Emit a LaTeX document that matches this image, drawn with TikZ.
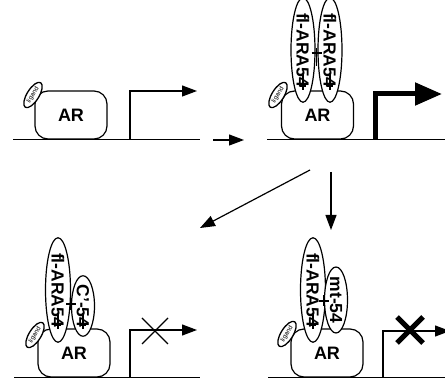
\documentclass[tikz,border=0pt]{standalone}
\usepackage{fontspec}
\setmainfont{Liberation Sans}[Ligatures=NoCommon]
\usetikzlibrary{shapes.geometric,arrows.meta}
\begin{document}
\begin{tikzpicture}[x=1pt,y=-1pt, line width=1.2pt,
  arbox/.style={draw, rounded corners=13pt, minimum width=72pt, minimum height=48pt, inner sep=0pt, font=\bfseries\fontsize{18}{18}\selectfont},
  co/.style={draw, fill=white, ellipse, rotate=-90, inner sep=0pt, font=\bfseries\fontsize{17.5}{17.5}\selectfont},
  lig/.style={draw, fill=white, ellipse, minimum width=29pt, minimum height=12pt, inner sep=0pt, line width=1.3pt, font=\fontsize{6.5}{6.5}\selectfont},
  base/.style={line width=0.9pt},
  thinarrow/.style={-{Triangle[length=15pt,width=11pt]}},
  boldarrow/.style={line width=5pt, -{Triangle[length=27pt,width=22pt]}},
  tick/.style={line width=1.2pt}
]
\path[use as bounding box] (0,0) rectangle (445,379);
\clip (0,0) rectangle (445,379);

% ---------------- Panel 1 ----------------
\coordinate (b1l) at (13,139); \coordinate (b1r) at (200,139);
\draw[base] (b1l) -- (b1r);
\node[arbox] (ar1) at (71,115) {AR};
\node[lig, rotate=58] (lg1) at (33,95) {ligand};
\coordinate (p1a) at (130,139); \coordinate (p1b) at (130,91); \coordinate (p1c) at (197,91);
\draw[thinarrow] (p1a) -- (p1b) -- (p1c);

% horizontal arrow
\coordinate (h1) at (213,140); \coordinate (h2) at (244,140);
\draw[thinarrow] (h1) -- (h2);

% ---------------- Panel 2 ----------------
\coordinate (b2l) at (267,139); \coordinate (b2r) at (445,139);
\draw[base] (b2l) -- (b2r);
\node[arbox] (ar2) at (317.5,115) {AR};
\node[co, minimum width=78pt, minimum height=24pt] (e2a) at (303,50) {fl-ARA54};
\node[co, minimum width=78pt, minimum height=24pt] (e2b) at (330,50) {fl-ARA54};
\node[lig, rotate=58] (lg2) at (278,95) {ligand};
\coordinate (x2) at (316.5,53);
\draw[tick] ([yshift=-13pt]x2) -- ([yshift=5pt]x2) ([xshift=-5pt]x2) -- ([xshift=5pt]x2);
\coordinate (t2a) at (303,86); \coordinate (t2b) at (330,86);
\draw[tick] ([yshift=-4pt]t2a) -- ([yshift=12pt]t2a) ([xshift=-3pt]t2a) -- ([xshift=3pt]t2a);
\draw[tick] ([yshift=-4pt]t2b) -- ([yshift=12pt]t2b) ([xshift=-3pt]t2b) -- ([xshift=3pt]t2b);
\coordinate (p2a) at (375,139); \coordinate (p2b) at (375,94); \coordinate (p2c) at (442,94);
\draw[boldarrow] (p2a) -- (p2b) -- (p2c);

% down arrows
\coordinate (d1) at (310,170); \coordinate (d2) at (200,228);
\draw[thinarrow] (d1) -- (d2);
\coordinate (v1) at (331,172); \coordinate (v2) at (331,230);
\draw[thinarrow] (v1) -- (v2);

% ---------------- Panel 3 ----------------
\coordinate (b3l) at (14,377); \coordinate (b3r) at (200,377);
\draw[base] (b3l) -- (b3r);
\node[arbox] (ar3) at (74,353) {AR};
\node[co, minimum width=78pt, minimum height=25pt] (e3a) at (58,290) {fl-ARA54};
\node[co, minimum width=46pt, minimum height=23pt] (e3b) at (83,306) {C'-54};
\node[lig, rotate=58] (lg3) at (35,335) {ligand};
\coordinate (x3) at (71,304);
\draw[tick] ([yshift=-6pt]x3) -- ([yshift=6pt]x3) ([xshift=-5pt]x3) -- ([xshift=5pt]x3);
\coordinate (t3a) at (58,325); \coordinate (t3b) at (83,325);
\draw[tick] ([yshift=-4pt]t3a) -- ([yshift=12pt]t3a) ([xshift=-3pt]t3a) -- ([xshift=3pt]t3a);
\draw[tick] ([yshift=-4pt]t3b) -- ([yshift=12pt]t3b) ([xshift=-3pt]t3b) -- ([xshift=3pt]t3b);
\coordinate (p3a) at (130,377); \coordinate (p3b) at (130,330); \coordinate (p3c) at (197,330);
\draw[thinarrow] (p3a) -- (p3b) -- (p3c);
\coordinate (xx3) at (155,331);
\draw[line width=1.2pt] ([shift={(-13,-13)}]xx3) -- ([shift={(13,13)}]xx3) ([shift={(-13,13)}]xx3) -- ([shift={(13,-13)}]xx3);

% ---------------- Panel 4 ----------------
\coordinate (b4l) at (268,377); \coordinate (b4r) at (445,377);
\draw[base] (b4l) -- (b4r);
\node[arbox] (ar4) at (327,353) {AR};
\node[co, minimum width=78pt, minimum height=25pt] (e4a) at (313,290) {fl-ARA54};
\node[co, minimum width=46pt, minimum height=23pt] (e4b) at (336,300) {mt-54};
\node[lig, rotate=58] (lg4) at (287,334) {ligand};
\coordinate (x4) at (324,301);
\draw[tick] ([yshift=-5pt]x4) -- ([yshift=6pt]x4) ([xshift=-5pt]x4) -- ([xshift=5pt]x4);
\coordinate (t4a) at (313,325);
\draw[tick] ([yshift=-4pt]t4a) -- ([yshift=12pt]t4a) ([xshift=-3pt]t4a) -- ([xshift=3pt]t4a);
\coordinate (p4a) at (383,377); \coordinate (p4b) at (383,331); \coordinate (p4c) at (450,331);
\draw[thinarrow] (p4a) -- (p4b) -- (p4c);
\coordinate (xx4) at (410,330);
\draw[line width=5pt] ([shift={(-13,-13)}]xx4) -- ([shift={(13,13)}]xx4) ([shift={(-13,13)}]xx4) -- ([shift={(13,-13)}]xx4);
\end{tikzpicture}
\end{document}
